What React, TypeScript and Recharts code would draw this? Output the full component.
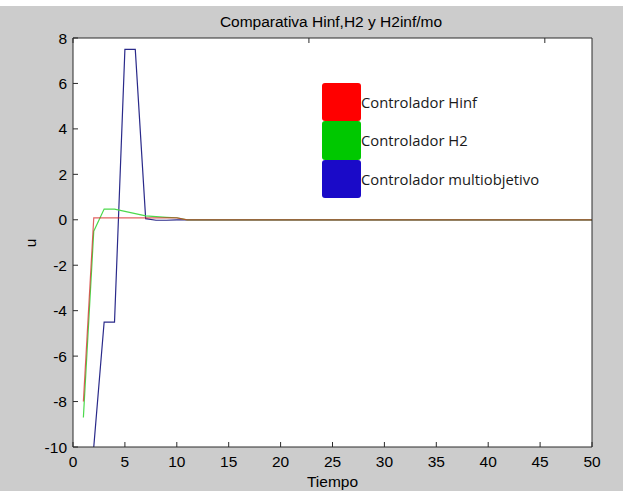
import { CartesianGrid, Legend, Line, LineChart, XAxis, YAxis } from "recharts";

// sample times (s) and controller outputs
const time = [1, 2, 3, 4, 5, 6, 7, 8, 9, 10, 11, 50];
const hinf = [-8, 0.08, 0.08, 0.08, 0.08, 0.08, 0.08, 0.08, 0.08, 0.08, 0, 0];
const h2 = [-8.7, -0.5, 0.47, 0.47, 0.37, 0.27, 0.17, 0.14, 0.11, 0.09, 0, 0];
const mo = [null, -10, -4.5, -4.5, 7.5, 7.5, 0.05, -0.02, -0.02, 0, 0, 0];

const xTicks = [0, 5, 10, 15, 20, 25, 30, 35, 40, 45, 50];
const yTicks = [-10, -8, -6, -4, -2, 0, 2, 4, 6, 8];

const seriesNames = [
  "Controlador Hinf",
  "Controlador H2",
  "Controlador multiobjetivo",
];
const legendColors = ["#ff0000", "#00c800", "#1a0ac8"];

const data = time.map((t, i) => ({
  t,
  hinf: hinf[i],
  h2: h2[i],
  mo: mo[i],
}));

const axisFont = {
  fill: "#000",
  fontSize: 15.5,
  fontFamily: "Liberation Sans, Arial, sans-serif",
};
const TICK = 5;
const INK = "#2b2b2b";

// matlab style ticks: short marks pointing into the axes box
const BottomTick = ({ x, y, payload }: any) => (
  <g>
    <line x1={x} x2={x} y1={y} y2={y - TICK} stroke={INK} />
    <text x={x} y={y + 20} textAnchor="middle" {...axisFont}>
      {payload.value}
    </text>
  </g>
);
const LeftTick = ({ x, y, payload }: any) => (
  <g>
    <line x1={x} x2={x + TICK} y1={y} y2={y} stroke={INK} />
    <text x={x - 6} y={y} dy="0.36em" textAnchor="end" {...axisFont}>
      {payload.value}
    </text>
  </g>
);
const TopTick = ({ x, y }: any) => (
  <line x1={x} x2={x} y1={y} y2={y + TICK} stroke={INK} />
);
const RightTick = ({ x, y }: any) => (
  <line x1={x} x2={x - TICK} y1={y} y2={y} stroke={INK} />
);

function BoxLegend() {
  return (
    <div style={{ fontFamily: "Open Sans, sans-serif", fontSize: 14.8 }}>
      {seriesNames.map((name, i) => (
        <div
          key={name}
          style={{ display: "flex", alignItems: "center", height: 38.3 }}
        >
          <div
            style={{
              width: 39,
              height: 38.3,
              background: legendColors[i],
              borderRadius: 3,
            }}
          />
          <span style={{ color: "#1a1a1a" }}>{name}</span>
        </div>
      ))}
    </div>
  );
}

export default function App() {
  return (
    <div
      style={{
        position: "absolute",
        left: 0,
        top: 0,
        width: 623,
        height: 491,
        background: "#fff",
      }}
    >
      <div
        style={{
          position: "absolute",
          left: 0,
          top: 6,
          width: 623,
          height: 485,
          background: "#cccccc",
        }}
      >
        <LineChart
          width={623}
          height={485}
          data={data}
          margin={{ top: 31, right: 30, bottom: 4, left: 33 }}
        >
          <CartesianGrid stroke="none" fill="#fff" fillOpacity={1} />
          <XAxis
            dataKey="t"
            type="number"
            domain={[0, 50]}
            ticks={xTicks}
            interval={0}
            allowDataOverflow
            height={40}
            tickSize={0}
            tickMargin={0}
            tickLine={false}
            stroke={INK}
            tick={<BottomTick />}
            label={{
              value: "Tiempo",
              position: "insideBottom",
              offset: 0.5,
              ...axisFont,
            }}
          />
          <XAxis
            xAxisId="top"
            orientation="top"
            type="number"
            domain={[0, 50]}
            ticks={xTicks}
            interval={0}
            height={1}
            tickSize={0}
            tickMargin={0}
            tickLine={false}
            stroke={INK}
            tick={<TopTick />}
          />
          <YAxis
            type="number"
            domain={[-10, 8]}
            ticks={yTicks}
            interval={0}
            allowDataOverflow
            width={40}
            tickSize={0}
            tickMargin={0}
            tickLine={false}
            stroke={INK}
            tick={<LeftTick />}
          />
          <YAxis
            yAxisId="right"
            orientation="right"
            type="number"
            domain={[-10, 8]}
            ticks={yTicks}
            interval={0}
            width={1}
            tickSize={0}
            tickMargin={0}
            tickLine={false}
            stroke={INK}
            tick={<RightTick />}
          />
          <Legend
            layout="horizontal"
            verticalAlign="middle"
            align="center"
            content={<BoxLegend />}
            wrapperStyle={{ left: 322, top: 77, width: 260 }}
          />
          <Line
            dataKey="mo"
            name={seriesNames[2]}
            stroke="#2a2a8a"
            strokeWidth={1.2}
            dot={false}
            isAnimationActive={false}
          />
          <Line
            dataKey="h2"
            name={seriesNames[1]}
            stroke="#4cd94c"
            strokeWidth={1.2}
            dot={false}
            isAnimationActive={false}
          />
          <Line
            dataKey="hinf"
            name={seriesNames[0]}
            stroke="#d42020"
            strokeOpacity={0.7}
            strokeWidth={1.2}
            dot={false}
            isAnimationActive={false}
          />
        </LineChart>
        <svg
          width={623}
          height={485}
          style={{ position: "absolute", left: 0, top: 0, pointerEvents: "none" }}
        >
          <text x={331} y={21} textAnchor="middle" {...axisFont}>
            Comparativa Hinf,H2 y H2inf/mo
          </text>
          <text
            x={36}
            y={237}
            textAnchor="middle"
            transform="rotate(-90 36 237)"
            {...axisFont}
          >
            u
          </text>
        </svg>
      </div>
    </div>
  );
}
